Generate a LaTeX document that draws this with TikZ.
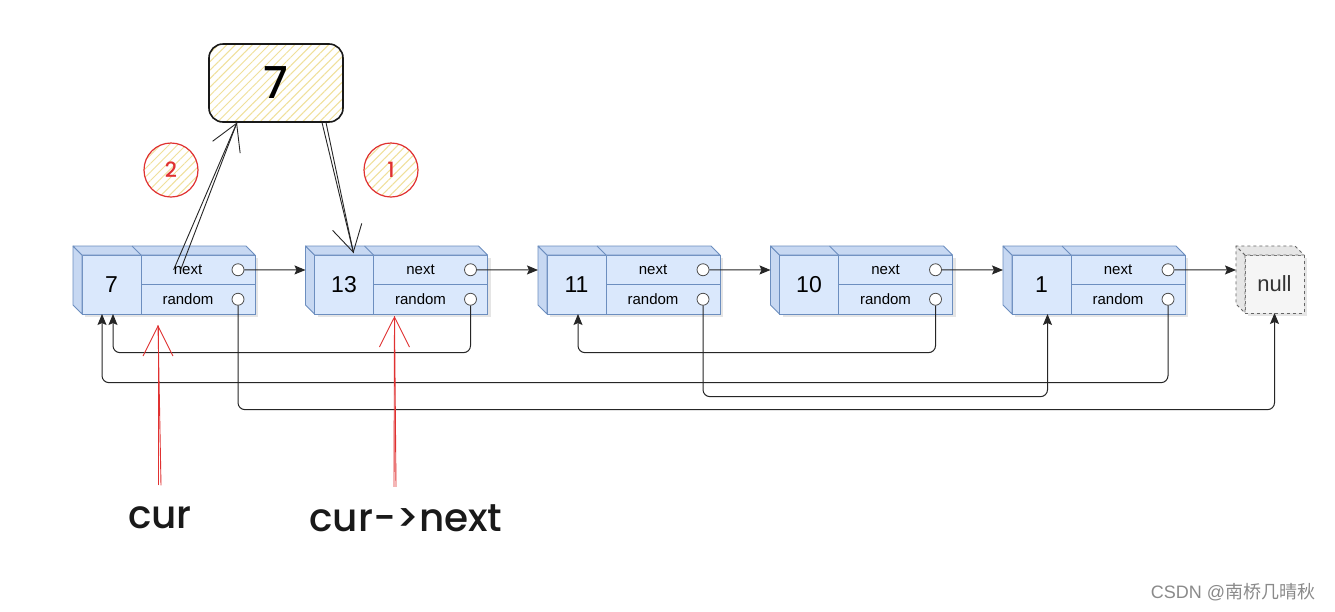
\documentclass[tikz,border=0pt]{standalone}
\usepackage{fontspec}
\setmainfont{Liberation Sans}
\newfontfamily\handfont{Poppins Medium}
\newfontfamily\cjk{Noto Sans CJK SC}
\usetikzlibrary{arrows.meta,calc,patterns.meta}
\definecolor{nodefill}{HTML}{DAE8FC}
\definecolor{nodeline}{HTML}{6C8EBF}
\definecolor{nodeside}{HTML}{C7D8F2}
\definecolor{nullfill}{HTML}{F5F5F5}
\definecolor{nullside}{HTML}{E6E6E6}
\definecolor{nullline}{HTML}{666666}
\definecolor{hatch}{HTML}{F0E09A}
\definecolor{inkred}{HTML}{E03131}
\definecolor{wmgray}{HTML}{8A8A8A}
\tikzset{
  valcell/.style={draw=nodeline, fill=nodefill, line width=0.8pt, minimum width=59pt,
                  minimum height=59pt, inner sep=0pt, outer sep=0pt,
                  font=\fontsize{23}{26}\selectfont},
  ptrcell/.style={draw=nodeline, fill=nodefill, line width=0.8pt, minimum width=114pt,
                  minimum height=29.5pt, inner sep=0pt, outer sep=0pt},
  sideface/.style={draw=nodeline, fill=nodeside, line width=0.8pt, line join=round},
  nullbox/.style={draw=nullline, fill=nullfill, dashed, line width=0.8pt, minimum width=59pt,
                  minimum height=58pt, inner sep=0pt, outer sep=0pt,
                  font=\fontsize{22}{25}\selectfont, text=black!80},
  nullside/.style={draw=nullline, fill=nullside, dashed, line width=0.8pt, line join=round},
  ptrtxt/.style={font=\fontsize{15}{17}\selectfont, inner sep=0pt},
  port/.style={circle, draw=black!70, fill=white, minimum size=12pt, inner sep=0pt, line width=0.8pt},
  nodeshadow/.style={fill=black, opacity=0.10},
  ar/.style={-{Stealth[length=11pt,width=9pt,inset=2pt]}, line width=1pt, draw=black!85},
  rar/.style={ar, rounded corners=7pt},
  hatched/.style={pattern={Lines[angle=45,distance=6pt,line width=1pt]}, pattern color=hatch},
  holdbox/.style={draw=black!90, line width=1.6pt, rounded corners=14pt, minimum width=134pt,
                  minimum height=78pt, hatched, font=\handfont\fontsize{44}{46}\selectfont},
  stepmark/.style={circle, draw=inkred, line width=1.2pt, minimum size=54pt, hatched,
                   text=inkred, font=\handfont\fontsize{21}{23}\selectfont},
  sketchln/.style={draw=black!85, line width=0.9pt},
  sketchar/.style={sketchln, -{Straight Barb[length=26pt,width=30pt]}},
  redln/.style={draw=inkred, line width=0.9pt},
  redar/.style={redln, -{Straight Barb[length=30pt,width=30pt]}},
  handtxt/.style={font=\handfont\fontsize{39}{42}\selectfont, text=black!90},
  wmark/.style={font=\fontsize{18}{20}\selectfont, text=wmgray}
}
% one list node: name, left x of the front face, value
\newcommand{\listnode}[3]{%
  \fill[nodeshadow] ({#2+3},258) rectangle ({#2+176},317);
  \node[valcell, anchor=north west] (#1v) at (#2,255) {#3};
  \node[ptrcell, anchor=north west] (#1n) at (#1v.north east) {};
  \node[ptrcell, anchor=north west] (#1r) at (#1n.south west) {};
  \filldraw[sideface] (#1v.north west) -- ++(-9,-9) -- ([xshift=-9pt,yshift=9pt]#1v.south west)
    -- (#1v.south west) -- cycle;
  \filldraw[sideface] (#1v.north west) -- ++(-9,-9) -- ([xshift=-9pt,yshift=9pt]#1n.north east)
    -- (#1n.north east) -- cycle;
  \draw[sideface] (#1v.north east) -- ++(-9,-9);
  \node[ptrtxt] (#1nt) at ([xshift=-10pt]#1n.center) {next};
  \node[ptrtxt] (#1rt) at ([xshift=-10pt]#1r.center) {random};
  \node[port] (#1np) at ([xshift=-17pt]#1n.east) {};
  \node[port] (#1rp) at ([xshift=-17pt]#1r.east) {};
  \coordinate (#1in) at ({#2-9},270);
}

\begin{document}
\begin{tikzpicture}[x=1pt,y=-1pt]
  \fill[white] (0,0) rectangle (1335,611);
  \useasboundingbox (0,0) rectangle (1335,611);

  % the list
  \listnode{a}{82}{7}
  \listnode{b}{314.5}{13}
  \listnode{c}{547}{11}
  \listnode{d}{779.5}{10}
  \listnode{e}{1012}{1}

  \fill[nodeshadow] (1248,258) rectangle (1307,316);
  \node[nullbox, anchor=north west] (nul) at (1245,255) {null};
  \filldraw[nullside] (nul.north west) -- ++(-9,-9) -- ([xshift=-9pt,yshift=9pt]nul.south west)
    -- (nul.south west) -- cycle;
  \filldraw[nullside] (nul.north west) -- ++(-9,-9) -- ([xshift=-9pt,yshift=9pt]nul.north east)
    -- (nul.north east) -- cycle;
  \coordinate (nulin) at (1236,270);

  % next pointers
  \draw[ar] (anp.east) -- (bin);
  \draw[ar] (bnp.east) -- (cin);
  \draw[ar] (cnp.east) -- (din);
  \draw[ar] (dnp.east) -- (ein);
  \draw[ar] (enp.east) -- (nulin);

  % random pointers
  \draw[rar] (arp.south) -- ++(0,104) -| (nul.south);
  \draw[rar] (brp.south) -- ++(0,47) -| ([xshift=1.5pt]av.south);
  \draw[rar] (crp.south) -- ++(0,91) -| ([xshift=6pt]ev.south);
  \draw[rar] (drp.south) -- ++(0,47) -| ([xshift=1.5pt]cv.south);
  \draw[rar] (erp.south) -- ++(0,77) -| ([xshift=-9.5pt]av.south);

  % the copy being linked in
  \node[holdbox] (hold) at (276,83) {7};
  \node[stepmark] (s2) at (171,170) {2};
  \node[stepmark] (s1) at (391,170) {1};
  \draw[sketchln] ([xshift=7pt]ant.west) -- ([xshift=-39pt]hold.south);
  \draw[sketchar] (ant.west) -- ([xshift=-39pt]hold.south);
  \draw[sketchln] ([xshift=50pt]hold.south) -- ([xshift=-20pt,yshift=2pt]bv.north east);
  \draw[sketchar] ([xshift=46pt]hold.south) -- ([xshift=-20pt,yshift=2pt]bv.north east);

  % cursors
  \node[handtxt] (cur) at (160,518) {cur};
  \node[handtxt] (curnext) at (406,518) {cur->next};
  \draw[redln] ([xshift=1pt,yshift=18pt]cur.north) -- ([xshift=-40pt,yshift=-11pt]ar.south);
  \draw[redar] ([xshift=-2pt,yshift=18pt]cur.north) -- ([xshift=-40pt,yshift=-11pt]ar.south);
  \draw[redln] ([xshift=-10pt,yshift=14pt]curnext.north) -- ([xshift=-36pt,yshift=-2pt]br.south);
  \draw[redar] ([xshift=-12pt,yshift=14pt]curnext.north) -- ([xshift=-36pt,yshift=-2pt]br.south);

  \node[wmark] (wm) at (1233,592) {CSDN @{\cjk 南桥几晴秋}};
\end{tikzpicture}
\end{document}
